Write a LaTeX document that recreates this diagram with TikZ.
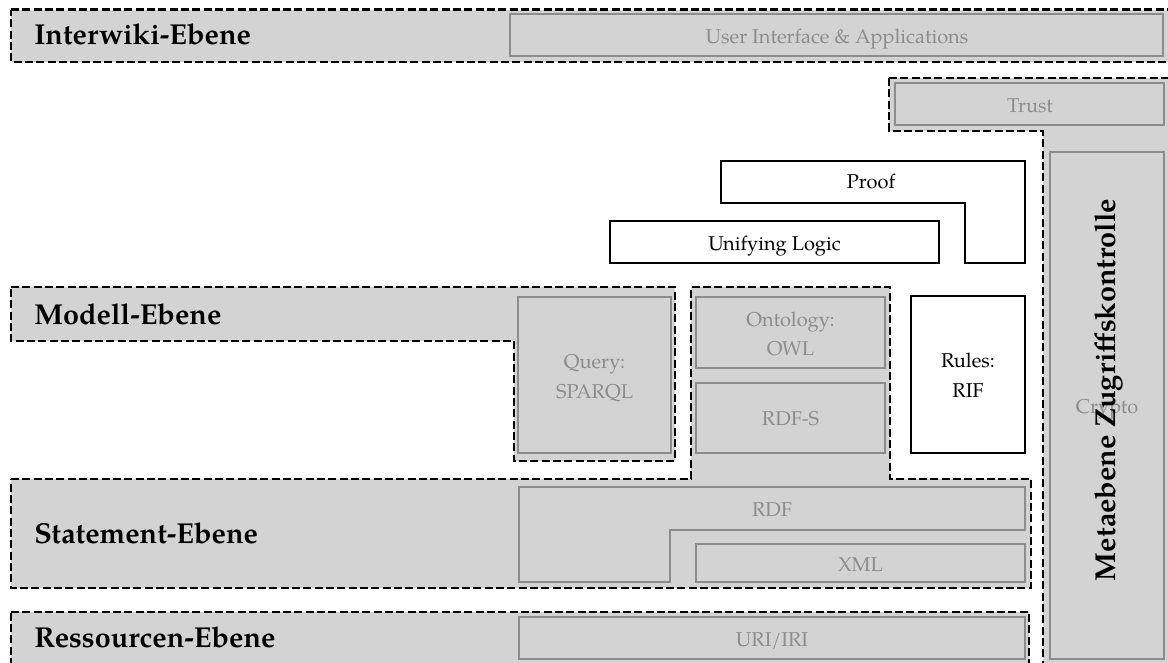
\documentclass[tikz,border=0pt]{standalone}
\usepackage{fontspec}
\setmainfont{TeX Gyre Pagella}
\definecolor{bandgray}{RGB}{211,211,211}
\definecolor{edgegray}{RGB}{140,140,140}
\definecolor{textgray}{RGB}{140,140,140}
\tikzset{
  band/.style={fill=bandgray, draw=black, line width=2pt, dash pattern=on 6pt off 2.5pt},
  graybox/.style={fill=bandgray, draw=edgegray, line width=2pt},
  whitebox/.style={fill=white, draw=black, line width=1.9pt},
  bandlabel/.style={font=\fontsize{21.6}{26}\selectfont\bfseries, anchor=base west, inner sep=0pt},
  graytext/.style={font=\fontsize{15}{21.75}\selectfont, text=textgray, anchor=base, inner sep=0pt},
  blacktext/.style={font=\fontsize{15}{21.75}\selectfont, anchor=base, inner sep=0pt},
}
\begin{document}
\begin{tikzpicture}[x=0.75pt,y=-0.75pt]
\useasboundingbox (0,0) rectangle (1168,662);

% ---- layer bands (dashed, grey) ----
\path[band] (11,9.5) -- (1180,9.5) -- (1180,62) -- (11,62) -- cycle;
\path[band] (889,78) -- (1180,78) -- (1180,675) -- (1043,675) -- (1043,131) -- (889,131) -- cycle;
\path[band] (11,287) -- (675,287) -- (675,461) -- (514,461) -- (514,341) -- (11,341) -- cycle;
\path[band] (11,479) -- (691,479) -- (691,287) -- (890,287) -- (890,479) -- (1031,479)
            -- (1031,588) -- (11,588) -- cycle;
\path[band] (11,612) -- (1029,612) -- (1029,675) -- (11,675) -- cycle;

% ---- band labels ----
\node[bandlabel] (interwiki) at (34,44) {Interwiki-Ebene};
\node[bandlabel] (modell) at (34,324) {Modell-Ebene};
\node[bandlabel] (statement) at (34,543) {Statement-Ebene};
\node[bandlabel] (ressourcen) at (34,647) {Ressourcen-Ebene};

% ---- grey technology boxes ----
\draw[graybox] (510,14) rectangle (1163,56);
\node[graytext] (ui) at (837,43) {User Interface \& Applications};

\draw[graybox] (895,83) rectangle (1164,125);
\node[graytext] (trust) at (1030,112) {Trust};

\draw[graybox] (1050,152) rectangle (1164,659);
\node[graytext] (crypto) at (1107,413) {Crypto};

\draw[graybox] (518,297) rectangle (671,453);
\node[graytext] (query) at (594.5,368) {Query:};
\node[graytext] (sparql) at (594.5,398) {SPARQL};

\draw[graybox] (696,297) rectangle (885,368);
\node[graytext] (ontology) at (790.5,326) {Ontology:};
\node[graytext] (owl) at (790.5,355) {OWL};

\draw[graybox] (696,383) rectangle (885,453);
\node[graytext] (rdfs) at (790.5,425) {RDF-S};

\draw[graybox] (519,487) -- (1025,487) -- (1025,530) -- (670,530) -- (670,582) -- (519,582) -- cycle;
\node[graytext] (rdf) at (772,516) {RDF};

\draw[graybox] (696,544) rectangle (1025,582);
\node[graytext] (xml) at (860.5,571) {XML};

\draw[graybox] (519,617) rectangle (1025,659);
\node[graytext] (uri) at (772,646) {URI/IRI};

% ---- white logic boxes ----
\draw[whitebox] (721,161) -- (1025,161) -- (1025,263) -- (965,263) -- (965,203) -- (721,203) -- cycle;
\node[blacktext] (proof) at (871,188) {Proof};

\draw[whitebox] (610,221) rectangle (939,263);
\node[blacktext] (logic) at (774.5,250) {Unifying Logic};

\draw[whitebox] (911,296) rectangle (1025,453);
\node[blacktext] (rules) at (968,367) {Rules:};
\node[blacktext] (rif) at (968,397) {RIF};

% ---- vertical meta label ----
\node[font=\fontsize{21.6}{26}\selectfont\bfseries, rotate=90, anchor=base, inner sep=0pt]
  (meta) at (1115,390) {Metaebene Zugriffskontrolle};
\end{tikzpicture}
\end{document}
